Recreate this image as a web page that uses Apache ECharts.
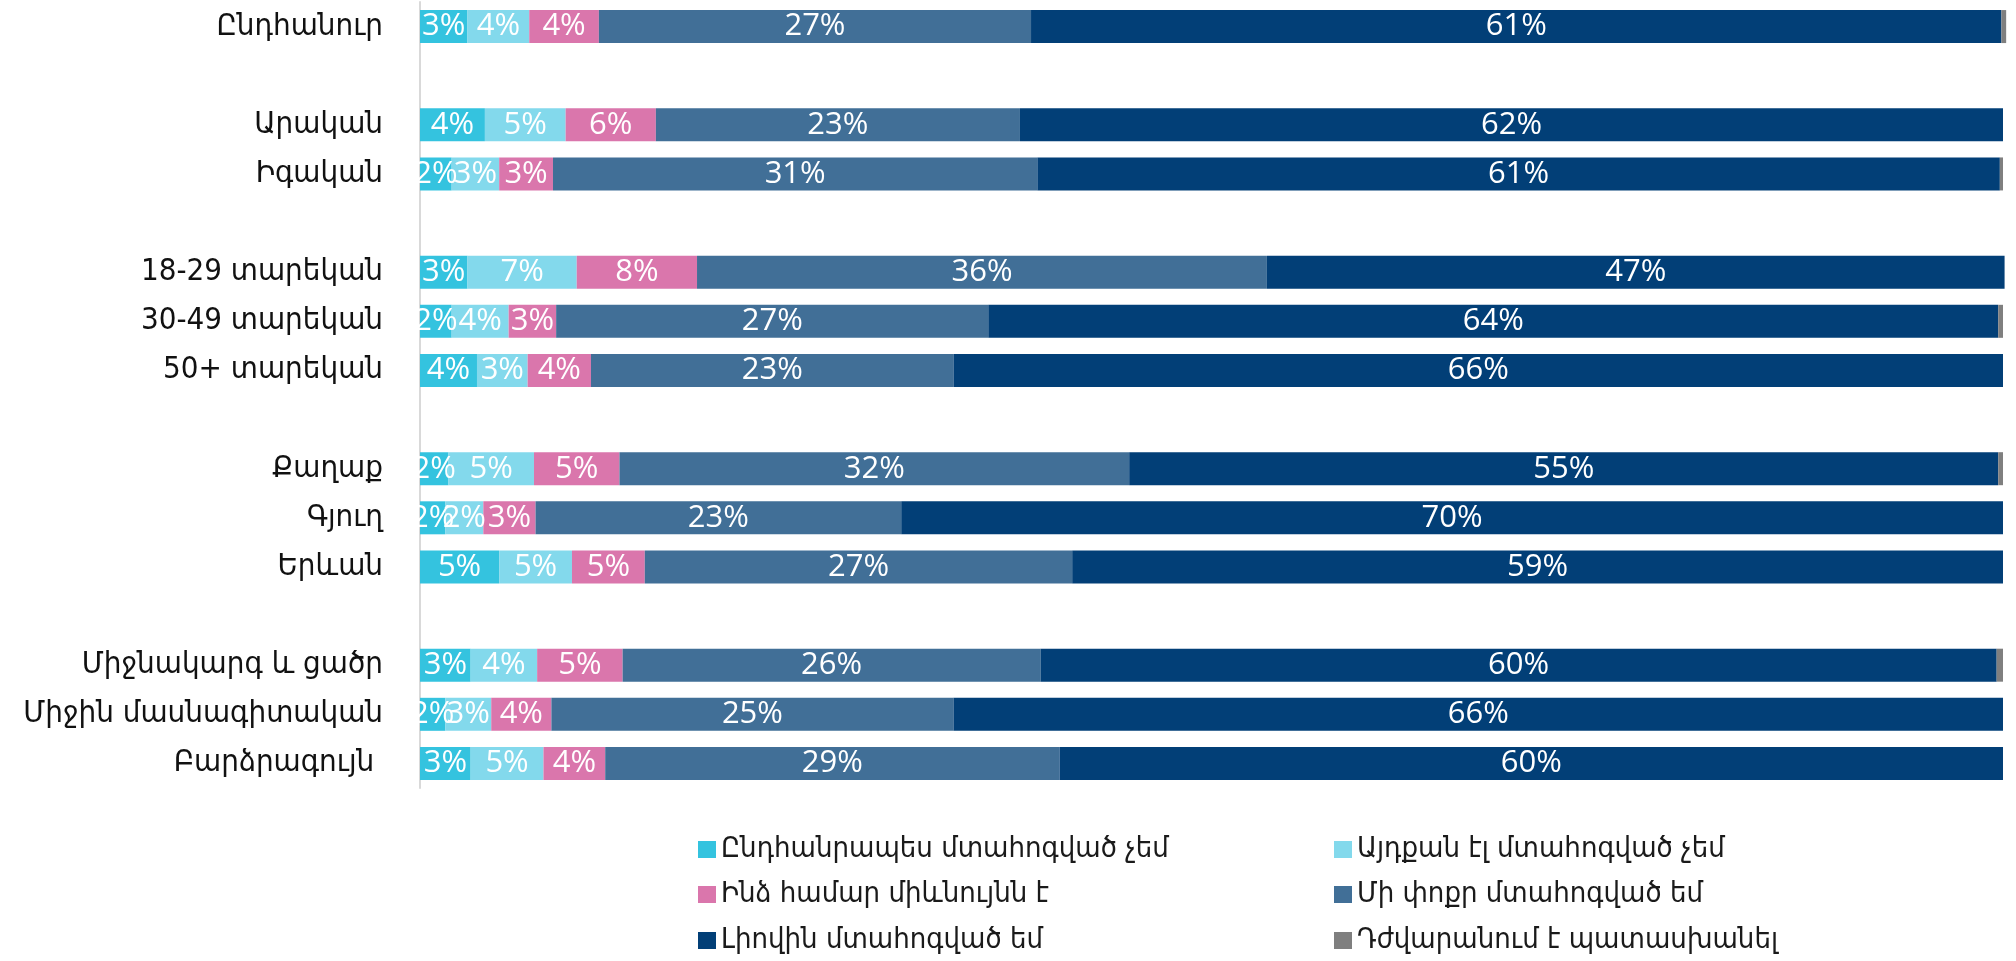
<!DOCTYPE html>
<html>
<head>
<meta charset="utf-8">
<script src="https://cdn.jsdelivr.net/npm/echarts@6/dist/echarts.min.js"></script>
<style>
  html, body { margin: 0; padding: 0; background: #fff; }
  #chart { width: 2016px; height: 961px; }
</style>
</head>
<body>
<div id="chart"></div>
<script>
// categories, blanks are the group gaps
var categories = ['Ընդհանուր', '', 'Արական', 'Իգական', '', '18-29 տարեկան', '30-49 տարեկան', '50+ տարեկան', '',
  'Քաղաք', 'Գյուղ', 'Երևան', '', 'Միջնակարգ և ցածր', 'Միջին մասնագիտական', 'Բարձրագույն '];

var seriesNames = ['Ընդհանրապես մտահոգված չեմ', 'Այդքան էլ մտահոգված չեմ', 'Ինձ համար միևնույնն է',
  'Մի փոքր մտահոգված եմ', 'Լիովին մտահոգված եմ', 'Դժվարանում է պատասխանել'];

var notAtAll   = [3.0, null, 4.1, 2.0, null, 3.0, 2.0, 3.6, null, 1.8, 1.6, 5.0, null, 3.2, 1.6, 3.2];
var notSoMuch  = [3.9, null, 5.1, 3.0, null, 6.9, 3.6, 3.2, null, 5.4, 2.4, 4.6, null, 4.2, 2.9, 4.6];
var indifferent = [4.4, null, 5.7, 3.4, null, 7.6, 3.0, 4.0, null, 5.4, 3.3, 4.6, null, 5.4, 3.8, 3.9];
var aLittle    = [27.3, null, 23.0, 30.6, null, 36.0, 27.3, 22.9, null, 32.2, 23.1, 27.0, null, 26.4, 25.4, 28.7];
var fully      = [61.3, null, 62.1, 60.8, null, 46.6, 63.8, 66.3, null, 54.9, 69.6, 58.8, null, 60.4, 66.3, 59.6];
var hardToSay  = [0.3, null, 0, 0.2, null, 0, 0.3, 0, null, 0.3, 0, 0, null, 0.4, 0, 0];

var colors = ['#34c3df', '#83d9ec', '#da76ac', '#416f97', '#023f77', '#7f7f7f'];

var chart = echarts.init(document.getElementById('chart'));

function makeSeries(name, data, color, showLabel) {
  return {
    name: name,
    type: 'bar',
    stack: 'all',
    data: data,
    barWidth: 33,
    clip: false,
    itemStyle: { color: color },
    label: {
      show: showLabel,
      position: 'inside',
      color: '#fff',
      fontFamily: 'Open Sans',
      fontSize: 31,
      formatter: function (p) {
        if (p.value == null) return '';
        return Math.round(p.value) + '%';
      }
    }
  };
}

// one legend per item so the 2x3 layout is fixed
var legendCols = [693, 1329];
var legendRows = [830, 875, 921];
var legends = seriesNames.map(function (name, i) {
  return {
    left: legendCols[i % 2],
    top: legendRows[Math.floor(i / 2)],
    itemWidth: 18,
    itemHeight: 17,
    icon: 'rect',
    textStyle: { fontFamily: 'DejaVu Sans Condensed', fontSize: 29, color: '#1a1a1a' },
    data: [name]
  };
});

var option = {
  animation: false,
  grid: { left: 420, right: 13, top: 2, bottom: 173 },
  xAxis: {
    type: 'value',
    min: 0,
    max: 100,
    show: false
  },
  yAxis: {
    type: 'category',
    data: categories,
    inverse: true,
    axisLine: { show: true, lineStyle: { color: '#d9d9d9', width: 2 } },
    axisTick: { show: false },
    axisLabel: {
      margin: 37,
      color: '#111',
      fontFamily: 'DejaVu Sans Condensed',
      fontSize: 31
    }
  },
  legend: legends,
  series: [
    makeSeries(seriesNames[0], notAtAll, colors[0], true),
    makeSeries(seriesNames[1], notSoMuch, colors[1], true),
    makeSeries(seriesNames[2], indifferent, colors[2], true),
    makeSeries(seriesNames[3], aLittle, colors[3], true),
    makeSeries(seriesNames[4], fully, colors[4], true),
    makeSeries(seriesNames[5], hardToSay, colors[5], false)
  ]
};

chart.setOption(option);
</script>
</body>
</html>
